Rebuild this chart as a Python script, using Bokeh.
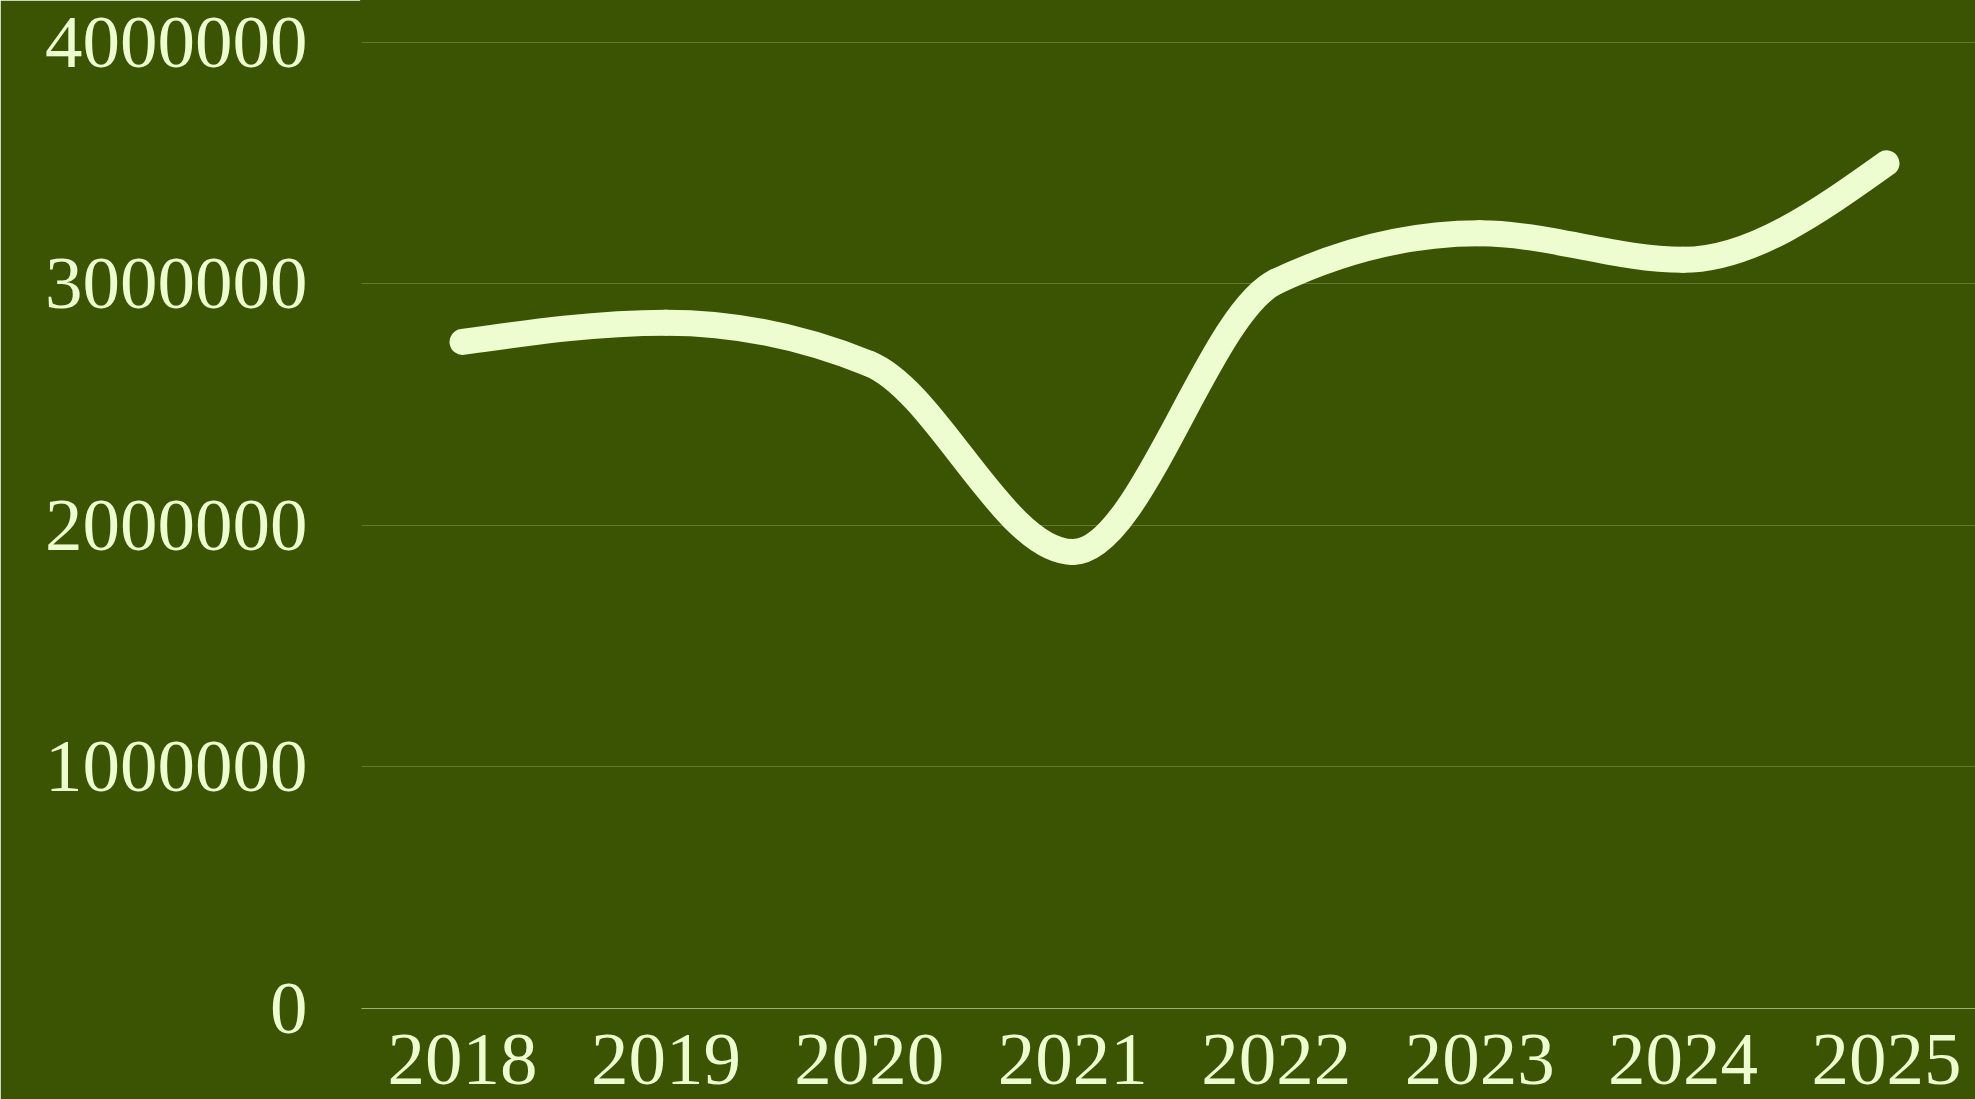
from bokeh.plotting import figure
from bokeh.models import ColumnDataSource, FixedTicker, BasicTickFormatter, Range1d
from bokeh.embed import file_html
from bokeh.resources import INLINE

years = [2018, 2019, 2020, 2021, 2022, 2023, 2024, 2025]
values = [2760000, 2840000, 2670000, 1890000, 3010000, 3210000, 3100000, 3500000]
y_ticks = [0, 1000000, 2000000, 3000000, 4000000]

BG = "#3b5403"
FG = "#eefdd0"
FONT = "Liberation Serif"


def sign(v):
    return (v > 0) - (v < 0)


def monotone_slopes(xs, ys):
    n = len(xs)
    t = [0.0] * n
    for i in range(1, n - 1):
        h0 = xs[i] - xs[i - 1]
        h1 = xs[i + 1] - xs[i]
        s0 = (ys[i] - ys[i - 1]) / h0
        s1 = (ys[i + 1] - ys[i]) / h1
        p = (s0 * h1 + s1 * h0) / (h0 + h1)
        t[i] = (sign(s0) + sign(s1)) * min(abs(s0), abs(s1), 0.5 * abs(p))
    h = xs[1] - xs[0]
    t[0] = (3 * (ys[1] - ys[0]) / h - t[1]) / 2
    h = xs[-1] - xs[-2]
    t[-1] = (3 * (ys[-1] - ys[-2]) / h - t[-2]) / 2
    return t


slopes = monotone_slopes(years, values)
seg = dict(x0=[], y0=[], x1=[], y1=[], cx0=[], cy0=[], cx1=[], cy1=[])
for i in range(len(years) - 1):
    dx = (years[i + 1] - years[i]) / 3
    seg["x0"].append(years[i])
    seg["y0"].append(values[i])
    seg["x1"].append(years[i + 1])
    seg["y1"].append(values[i + 1])
    seg["cx0"].append(years[i] + dx)
    seg["cy0"].append(values[i] + dx * slopes[i])
    seg["cx1"].append(years[i + 1] - dx)
    seg["cy1"].append(values[i + 1] - dx * slopes[i + 1])
src = ColumnDataSource(seg)

p = figure(width=1975, height=1099, output_backend="svg", toolbar_location=None,
           x_range=Range1d(2017.5035, 2025.4375), y_range=Range1d(0, 4173900),
           min_border_left=361, min_border_right=0, min_border_top=0, min_border_bottom=91)
p.background_fill_color = BG
p.border_fill_color = BG
p.outline_line_color = BG
p.outline_line_width = 3

p.bezier(x0="x0", y0="y0", x1="x1", y1="y1", cx0="cx0", cy0="cy0", cx1="cx1", cy1="cy1",
         source=src, line_color=FG, line_width=26, line_cap="round", line_join="round")

p.xgrid.grid_line_color = None
p.ygrid.ticker = FixedTicker(ticks=y_ticks)
p.ygrid.grid_line_color = FG
p.ygrid.grid_line_alpha = 0.22
p.ygrid.grid_line_width = 1

p.yaxis.ticker = FixedTicker(ticks=y_ticks)
p.yaxis.formatter = BasicTickFormatter(use_scientific=False)
p.yaxis.axis_line_color = None
p.yaxis.major_tick_line_color = None
p.yaxis.minor_tick_line_color = None
p.yaxis.major_tick_out = 0
p.yaxis.major_label_standoff = 54
p.yaxis.major_label_text_font = FONT
p.yaxis.major_label_text_font_size = "75px"
p.yaxis.major_label_text_color = FG

p.xaxis.ticker = FixedTicker(ticks=years)
p.xaxis.axis_line_color = FG
p.xaxis.axis_line_alpha = 0.55
p.xaxis.major_tick_line_color = None
p.xaxis.minor_tick_line_color = None
p.xaxis.major_tick_out = 0
p.xaxis.major_label_standoff = 26
p.xaxis.major_label_text_font = FONT
p.xaxis.major_label_text_font_size = "75px"
p.xaxis.major_label_text_color = FG

open("out.html", "w").write(file_html(p, INLINE))
